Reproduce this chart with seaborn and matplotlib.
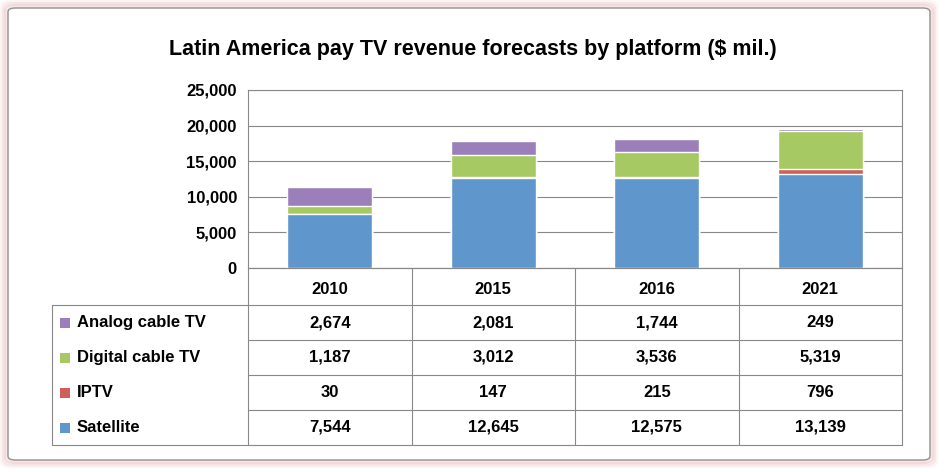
import seaborn as sns
import matplotlib.pyplot as plt
import pandas as pd
import numpy as np
from matplotlib.patches import FancyBboxPatch, Rectangle

years = ["2010", "2015", "2016", "2021"]
satellite = [7544, 12645, 12575, 13139]
iptv = [30, 147, 215, 796]
digital = [1187, 3012, 3536, 5319]
analog = [2674, 2081, 1744, 249]

series = ["Analog cable TV", "Digital cable TV", "IPTV", "Satellite"]
colors = {"Analog cable TV": "#9A7FBA", "Digital cable TV": "#A6C964",
          "IPTV": "#CF5F5B", "Satellite": "#5F96CB"}
values = {"Analog cable TV": analog, "Digital cable TV": digital,
          "IPTV": iptv, "Satellite": satellite}

W, H = 946, 472
fig = plt.figure(figsize=(W / 100, H / 100), dpi=100)
sns.set_style("white")
plt.rcParams["font.family"] = ["Liberation Sans", "DejaVu Sans"]

def fx(px):
    return px / W

def fy(py):
    return 1 - py / H

# frame with soft pink shadow (behind everything)
for i, a in enumerate([0.08, 0.12, 0.18]):
    off = 6 - 2 * i
    fig.patches.append(FancyBboxPatch((fx(8 - off), fy(460 + off)), fx(922 + 2 * off), (452 + 2 * off) / H,
                                      boxstyle="round,pad=0,rounding_size=0.01", transform=fig.transFigure,
                                      facecolor="none", edgecolor="#D98080", linewidth=3, alpha=a, zorder=-10))
fig.patches.append(FancyBboxPatch((fx(8), fy(460)), fx(922), 452 / H,
                                  boxstyle="round,pad=0,rounding_size=0.008", transform=fig.transFigure,
                                  facecolor="white", edgecolor="#909090", linewidth=1, zorder=-9))

fig.text(0.5, fy(50), "Latin America pay TV revenue forecasts by platform ($ mil.)",
         ha="center", va="center", fontsize=15.5, fontweight="bold", color="black")

left, right, top, bottom = 248, 902, 90, 268
ax = fig.add_axes([fx(left), fy(bottom), fx(right - left), (bottom - top) / H])
ax.patch.set_alpha(0)

# cumulative stacks, drawn top-first so lower segments overlay
stack_order = ["Satellite", "IPTV", "Digital cable TV", "Analog cable TV"]
cum = np.zeros(len(years))
cums = {}
for s in stack_order:
    cum = cum + np.array(values[s])
    cums[s] = cum.copy()
for s in reversed(stack_order):
    df = pd.DataFrame({"year": years, "value": cums[s]})
    sns.barplot(data=df, x="year", y="value", color=colors[s], width=0.52,
                saturation=1, ax=ax, zorder=3)

ax.set_ylim(0, 25000)
ax.set_yticks(range(0, 25001, 5000))
ax.set_yticklabels([f"{v:,}" for v in range(0, 25001, 5000)], fontsize=12, fontweight="bold", color="black")
ax.set_xticks([])
ax.set_xlabel("")
ax.set_ylabel("")
ax.grid(axis="y", color="#888888", linewidth=0.8, zorder=0)
ax.set_axisbelow(True)
ax.tick_params(axis="y", length=0, pad=8)
for sp in ax.spines.values():
    sp.set_color("#888888")
    sp.set_linewidth(0.8)

# data table
label_left = 52
col_w = (right - left) / 4
rows_y = [268, 305, 340, 375, 410, 445]
lc = "#888888"
line = lambda x0, y0, x1, y1: fig.add_artist(plt.Line2D([fx(x0), fx(x1)], [fy(y0), fy(y1)],
                                                        color=lc, linewidth=0.8, transform=fig.transFigure))
for i in range(5):
    line(left, rows_y[i], right, rows_y[i])
line(label_left, 305, left, 305)
line(label_left, 445, right, 445)
line(label_left, 305, label_left, 445)
for j in range(5):
    line(left + j * col_w, 268, left + j * col_w, 445)

for j, yr in enumerate(years):
    fig.text(fx(left + (j + 0.5) * col_w), fy(290), yr, ha="center", va="center",
             fontsize=12, fontweight="bold", color="black")
for i, s in enumerate(series):
    yc = (rows_y[i + 1] + rows_y[i + 2]) / 2
    fig.patches.append(Rectangle((fx(60), fy(yc + 5)), fx(10), 10 / H, transform=fig.transFigure,
                                 facecolor=colors[s], edgecolor="none"))
    fig.text(fx(77), fy(yc), s, ha="left", va="center", fontsize=12, fontweight="bold", color="black")
    for j, v in enumerate(values[s]):
        fig.text(fx(left + (j + 0.5) * col_w), fy(yc), f"{v:,}", ha="center", va="center",
                 fontsize=12, fontweight="bold", color="black")

fig.savefig("out.png", dpi=100)
